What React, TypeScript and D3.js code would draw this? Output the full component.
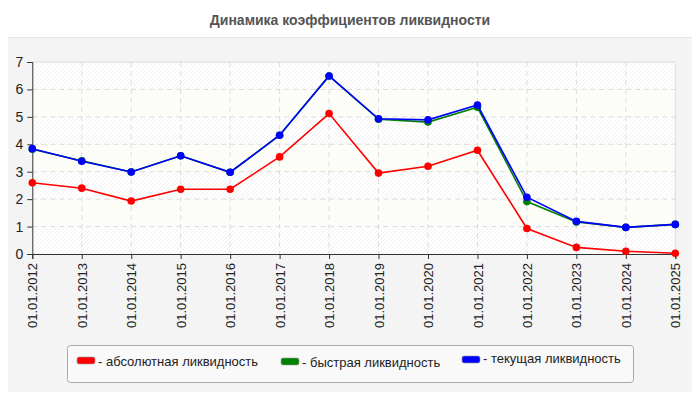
import React, { useRef, useEffect } from "react";
import * as d3 from "d3";

const dates = [
  "01.01.2012", "01.01.2013", "01.01.2014", "01.01.2015", "01.01.2016",
  "01.01.2017", "01.01.2018", "01.01.2019", "01.01.2020", "01.01.2021",
  "01.01.2022", "01.01.2023", "01.01.2024", "01.01.2025"
];
const absolute = [2.6, 2.4, 1.93, 2.36, 2.36, 3.54, 5.12, 2.95, 3.2, 3.78, 0.93, 0.24, 0.1, 0.03];
const quick = [3.82, 3.4, 2.99, 3.58, 2.98, 4.33, 6.49, 4.91, 4.81, 5.35, 1.91, 1.17, 0.97, 1.08];
const current = [3.84, 3.38, 2.99, 3.58, 2.98, 4.33, 6.49, 4.93, 4.89, 5.43, 2.07, 1.19, 0.97, 1.08];
const yTicks = [0, 1, 2, 3, 4, 5, 6, 7];

const series = [
  { name: "- абсолютная ликвидность", color: "#ff0000", values: absolute },
  { name: "- быстрая ликвидность", color: "#008000", values: quick },
  { name: "- текущая ликвидность", color: "#0000ff", values: current }
];

const W = 700, H = 400;
const font = "'Liberation Sans', Arial, sans-serif";

const App = () => {
  const node: any = useRef();

  useEffect(() => {
    const svg = d3.select(node.current);
    svg.selectAll("*").remove();

    const x = d3.scalePoint<number>().domain(d3.range(dates.length)).range([32.3, 675.3]);
    const y = d3.scaleLinear().domain([0, 7]).range([254, 62]);

    // patterns for plot bands
    const defs = svg.append("defs");
    const hatch = (id: string, bg: string, ink: string) => {
      const p = defs
        .append("pattern")
        .attr("id", id)
        .attr("patternUnits", "userSpaceOnUse")
        .attr("width", 4)
        .attr("height", 4);
      p.append("rect").attr("width", 4).attr("height", 4).attr("fill", bg);
      p.append("path")
        .attr("d", "M-1,1 l2,-2 M0,4 l4,-4 M3,5 l2,-2")
        .attr("stroke", ink)
        .attr("stroke-width", 0.8);
    };
    hatch("hatchA", "#ffffff", "#ededed");
    hatch("hatchB", "#fefefa", "#f7f7f2");

    // title
    svg
      .append("text")
      .attr("x", 350)
      .attr("y", 25)
      .attr("text-anchor", "middle")
      .attr("font-family", font)
      .attr("font-weight", "bold")
      .attr("font-size", "14px")
      .attr("fill", "#555")
      .text("Динамика коэффициентов ликвидности");

    // panel
    svg
      .append("rect")
      .attr("x", 1.5)
      .attr("y", 37.5)
      .attr("width", 696)
      .attr("height", 360)
      .attr("rx", 5)
      .attr("fill", "#f4f4f4")
      .attr("stroke", "#e6e6e6");

    const [x0, x1] = x.range();

    // bands
    svg
      .append("g")
      .selectAll("rect")
      .data(d3.range(7))
      .enter()
      .append("rect")
      .attr("x", x0)
      .attr("width", x1 - x0)
      .attr("y", d => y(d + 1))
      .attr("height", d => y(d) - y(d + 1))
      .attr("fill", d => (d % 2 === 0 ? "url(#hatchA)" : "url(#hatchB)"));

    // grid
    const grid = svg.append("g").attr("stroke", "#dcdcdc").attr("stroke-dasharray", "5,4");
    grid
      .selectAll("line.h")
      .data(yTicks.slice(1, -1))
      .enter()
      .append("line")
      .attr("x1", x0)
      .attr("x2", x1)
      .attr("y1", d => y(d))
      .attr("y2", d => y(d));
    grid
      .selectAll("line.v")
      .data(d3.range(1, dates.length - 1))
      .enter()
      .append("line")
      .attr("x1", d => x(d)!)
      .attr("x2", d => x(d)!)
      .attr("y1", y(7))
      .attr("y2", y(0));

    // plot border top/right
    svg
      .append("path")
      .attr("d", `M${x0},${y(7)}H${x1}V${y(0)}`)
      .attr("fill", "none")
      .attr("stroke", "#dcdcdc");

    // axes
    const yAxis = svg
      .append("g")
      .attr("transform", `translate(${x0},0)`)
      .call(d3.axisLeft(y).tickValues(yTicks).tickSize(5).tickPadding(4).tickFormat(d3.format("d")));
    yAxis.select(".domain").attr("stroke", "#333");
    yAxis.selectAll("line").attr("stroke", "#333");
    yAxis
      .selectAll("text")
      .attr("font-family", font)
      .attr("font-size", "14px")
      .attr("fill", "#222");

    const xAxis = svg
      .append("g")
      .attr("transform", `translate(0,${y(0)})`)
      .call(d3.axisBottom(x).tickSize(5).tickFormat(i => dates[i as number]));
    xAxis.select(".domain").attr("stroke", "#333");
    xAxis.selectAll("line").attr("stroke", "#333");
    xAxis
      .selectAll("text")
      .attr("font-family", font)
      .attr("font-size", "13px")
      .attr("fill", "#222")
      .attr("text-anchor", "end")
      .attr("dy", "0.35em")
      .attr("transform", "translate(0,4) rotate(-90)")
      .attr("y", 0)
      .attr("x", -5);

    // lines
    const line = d3
      .line<number>()
      .x((_, i) => x(i)!)
      .y(d => y(d));
    series.forEach(s => {
      const g = svg.append("g");
      g.append("path")
        .attr("d", line(s.values))
        .attr("fill", "none")
        .attr("stroke", s.color)
        .attr("stroke-width", 1.6);
      g.selectAll("circle")
        .data(s.values)
        .enter()
        .append("circle")
        .attr("cx", (_, i) => x(i)!)
        .attr("cy", d => y(d))
        .attr("r", 3.8)
        .attr("fill", s.color);
    });

    // legend
    svg
      .append("rect")
      .attr("x", 67.5)
      .attr("y", 345.5)
      .attr("width", 566)
      .attr("height", 37)
      .attr("rx", 3)
      .attr("fill", "#f9f9f9")
      .attr("stroke", "#aaa");

    const legendPos = [
      { x: 77, y: 357, ty: 366 },
      { x: 281, y: 358, ty: 367 },
      { x: 462, y: 356, ty: 363 }
    ];
    const legend = svg
      .append("g")
      .selectAll("g")
      .data(series)
      .enter()
      .append("g")
      .attr("transform", (_, i) => `translate(${legendPos[i].x},0)`);
    legend
      .append("rect")
      .attr("y", (_, i) => legendPos[i].y)
      .attr("width", 18)
      .attr("height", 7)
      .attr("rx", 2)
      .attr("fill", d => d.color)
      .attr("stroke", "#999")
      .attr("stroke-width", 0.6);
    legend
      .append("text")
      .attr("x", 21)
      .attr("y", (_, i) => legendPos[i].ty)
      .attr("font-family", font)
      .attr("font-size", "13px")
      .attr("fill", "#222")
      .text(d => d.name);
  }, []);

  return <svg ref={node} width={W} height={H} style={{ display: "block", margin: -8 }} />;
};

export default App;
